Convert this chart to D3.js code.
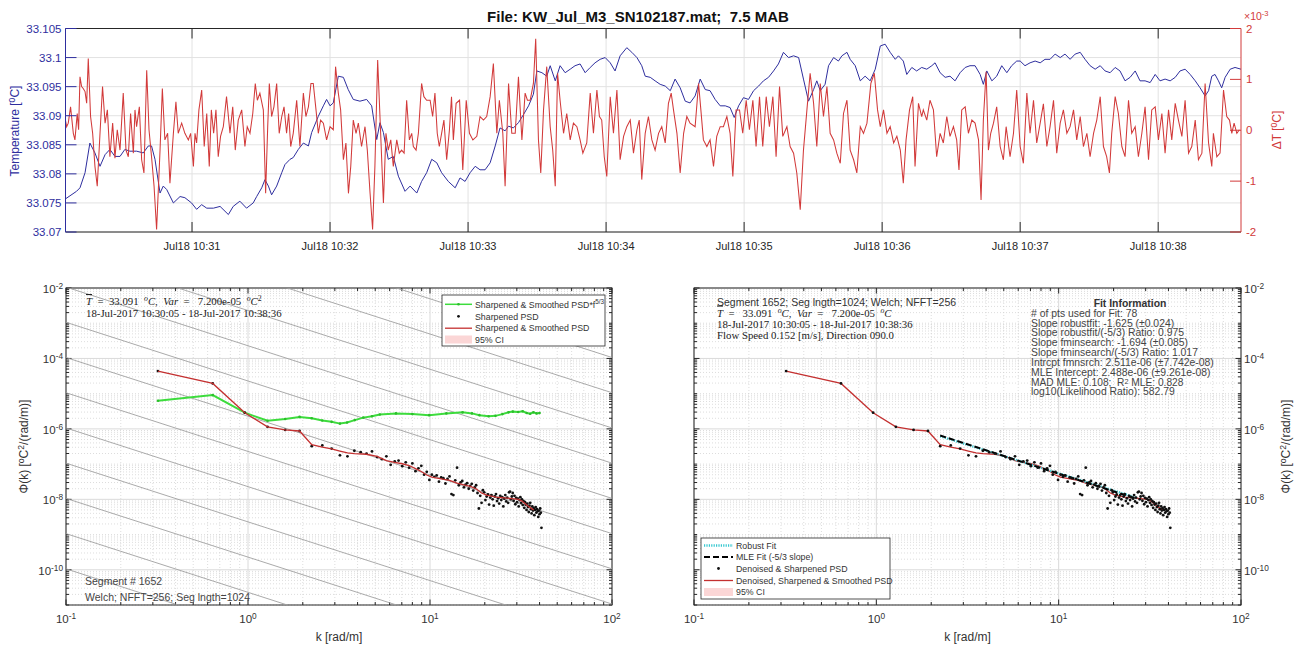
<!DOCTYPE html>
<html>
<head>
<meta charset="utf-8">
<title>KW_Jul_M3_SN102187</title>
<script src="https://d3js.org/d3.v7.min.js"></script>
<style>
  body { margin: 0; background: #fff; }
  svg { font-family: "Liberation Sans", Arial, sans-serif; }
</style>
</head>
<body>
<svg id="fig" width="1299" height="646"></svg>

<script>
// ---------- top panel data (seconds after 10:30:00, value) ----------
var tempTicks = [33.07, 33.075, 33.08, 33.085, 33.09, 33.095, 33.1, 33.105];
var tempTickLabels = ["33.07", "33.075", "33.08", "33.085", "33.09", "33.095", "33.1", "33.105"];
var dTTicks = [-2, -1, 0, 1, 2];

// temperature [degC]
var tempSeries = [[5,33.0757],[9.8,33.0770],[11.3,33.0776],[13.5,33.0802],[15.6,33.0853],[17.8,33.0836],[20,33.0813],[22.2,33.0833],[24.3,33.0842],[26.5,33.0830],[28.7,33.0830],[30.8,33.0842],[33,33.0839],[35.9,33.0839],[38.8,33.0836],[41,33.0848],[42.4,33.0848],[43.9,33.0825],[46.1,33.0767],[47.5,33.0779],[49,33.0773],[51.9,33.0750],[54.8,33.0761],[56.9,33.0759],[59.8,33.0750],[62,33.0739],[64.2,33.0747],[66.4,33.0741],[69.3,33.0741],[72.2,33.0744],[75.8,33.0730],[77.9,33.0744],[80.8,33.0753],[83.7,33.0741],[86.6,33.0750],[88.1,33.0761],[90.3,33.0776],[91.7,33.0790],[93.2,33.0779],[94.6,33.0764],[96.8,33.0779],[99,33.0802],[100.4,33.0816],[102.6,33.0825],[104,33.0828],[106.2,33.0842],[108.4,33.0853],[110.6,33.0848],[112,33.0871],[114.9,33.0899],[117.1,33.0917],[118.5,33.0928],[120,33.0917],[121.4,33.0922],[123.6,33.0968],[125.8,33.0966],[127.9,33.0945],[130.1,33.0928],[133,33.0925],[135.9,33.0928],[138.1,33.0917],[140.3,33.0859],[141.7,33.0888],[143.2,33.0871],[145.3,33.0825],[147.5,33.0830],[149.7,33.0796],[152.6,33.0770],[154.8,33.0779],[157.7,33.0767],[159.8,33.0787],[162,33.0802],[164.2,33.0825],[166.4,33.0819],[168.5,33.0802],[171.4,33.0787],
  [174.4,33.0776],[176.5,33.0793],[178.7,33.0787],[180.9,33.0802],[183.1,33.0813],[185.2,33.0807],[187.4,33.0807],[189.6,33.0819],[191.8,33.0848],[193.9,33.0879],[196.1,33.0874],[197.6,33.0882],[199.7,33.0879],[201.9,33.0888],[204.1,33.0902],[206.3,33.0917],[208.4,33.0937],[209.9,33.0977],[212.1,33.0974],[214.2,33.0968],[215.7,33.0986],[217.9,33.0960],[220,33.0986],[222.2,33.0974],[224.4,33.0980],[226.5,33.0986],[228.7,33.0989],[230.9,33.0974],[233.1,33.0983],[235.2,33.0991],[237.4,33.0997],[239.6,33.1000],[241.8,33.0991],[243.9,33.0977],[246.1,33.1003],[249,33.1017],[251.2,33.1009],[253.4,33.1000],[255.5,33.0986],[257,33.0968],[259.2,33.0966],[261.3,33.0960],[263.5,33.0954],[265.7,33.0951],[267.9,33.0943],[270,33.0963],[272.2,33.0948],[274.4,33.0925],[276.5,33.0922],[278.7,33.0934],[280.9,33.0963],[283.1,33.0945],[285.2,33.0943],[287.4,33.0928],[289.6,33.0917],[291.8,33.0917],[293.9,33.0914],[295.7,33.0897],[297.6,33.0917],[299.7,33.0931],[301.9,33.0928],[304.1,33.0943],[306.3,33.0951],[308.4,33.0960],[310.6,33.0966],[312.8,33.0977],[314.9,33.0989],[317.1,33.1009],[319.3,33.1000],[321.5,33.1003],[323.7,33.1000],[325.8,33.0963],[328,33.0925],[330.2,33.0945],[331.6,33.0960],[333.1,33.0943],[335.2,33.0954],[336.7,33.0986],[338.9,33.1000],[341,33.0994],[342.5,33.1003],[344.7,33.1009],[346.1,33.0997],[348.3,33.0986],[350.5,33.0960],[352.6,33.0968],[354.8,33.0960],[357,33.0980],[359.2,33.1020],[361.3,33.1023],[363.5,33.1009],[365.7,33.0997],[367.1,33.1003],[369.2,33.0994],[370.7,33.0971],[372.9,33.0983],[375,33.0977],[377.2,33.0983],[379.4,33.0980],[381.6,33.0986],[383,33.0991],[385.2,33.0974],[387.4,33.0966],[389.5,33.0968],[391.7,33.0960],[393.9,33.0974],[396.1,33.0983],[398.2,33.0986],[400.4,33.0986],[402.6,33.0971],[404,33.0954],[405.5,33.0977],[407.7,33.0960],[409.8,33.0968],[412,33.0986],[414.2,33.0974],[416.3,33.0986],[418.5,33.0994],[420,33.0994],[422.1,33.0986],[424.3,33.0991],[426.5,33.0994],[428.7,33.0991],[430.8,33.0997],[433,33.0997],[435.2,33.1006],[437.4,33.1000],[439.5,33.1006],[441.7,33.0997],[443.9,33.1006],[446.1,33.1009],[448.2,33.0997],[450.4,33.0986],[452.6,33.0980],[454.8,33.0986],[456.9,33.0977],[459.1,33.0974],[461.3,33.0983],[463.4,33.0977],[465.6,33.0960],[467.8,33.0966],[470,33.0977],[472.1,33.0960],[474.3,33.0960],[476.5,33.0957],[478.7,33.0971],[480.8,33.0960],[483,33.0963],[485.2,33.0960],[487.4,33.0966],[489.5,33.0977],[491.7,33.0980],[493.9,33.0971],[496.1,33.0960],[498.2,33.0948],[500.4,33.0934],[501.9,33.0943],[503.3,33.0968],[504.7,33.0971],[506.2,33.0960],[507.6,33.0948],[509.1,33.0966],[511.3,33.0980],[513.4,33.0983],[516,33.0980]];

// delta T [x 1e-3 degC]
var dTSeries = [[4.8,0.24],[5.5,0.07],[6.2,0.14],[7.2,0.46],[8.4,-0.06],[9.1,-0.19],[10.1,0.33],[10.7,0.01],[11.3,1.05],[12.0,0.86],[12.7,0.82],[13.5,0.76],[14.2,0.53],[14.9,1.41],[15.9,0.27],[16.8,-0.06],[17.8,-0.71],[18.8,-1.10],[20.0,-0.06],[21.1,0.86],[22.2,0.14],[23.2,0.40],[24.3,-0.52],[25.5,0.14],[26.5,-0.55],[27.5,0.01],[28.7,-0.39],[30.1,0.73],[31.3,-0.39],[32.3,-0.52],[33.3,0.33],[34.5,-0.45],[35.2,0.40],[35.9,0.07],[37.1,0.46],[38.1,-0.58],[39.1,-0.84],[40.3,1.18],[41.3,0.01],[42.4,-0.52],[43.5,-1.10],[44.6,-1.95],[46.1,-0.39],[47.1,0.82],[48.2,-0.19],[49.4,-0.06],[50.4,-1.04],[51.9,-0.06],[53.0,0.56],[54.0,-0.06],[55.5,0.14],[56.9,-0.06],[58.4,-0.19],[59.4,-0.06],[60.6,-0.71],[61.3,-0.06],[62.0,-0.25],[63.0,0.40],[64.2,0.79],[65.3,-0.32],[66.4,0.33],[67.5,-0.71],[68.4,0.40],[69.4,-0.06],[70.4,0.40],[71.4,-0.52],[72.4,-0.12],[73.6,0.07],[75.0,0.66],[76.5,-0.06],[77.7,0.46],[78.8,-0.39],[80.1,0.20],[81.6,0.40],[83.0,-0.32],[84.0,0.07],[85.2,-0.06],[86.4,0.33],[87.5,0.92],[88.4,0.59],[89.5,0.73],[91.0,0.40],[92.0,-1.24],[92.9,0.07],[93.6,0.92],[94.6,0.27],[95.6,0.46],[96.8,0.92],[97.9,-0.06],[99.0,0.27],[100.0,0.46],[101.1,-0.06],[102.0,0.33],[102.9,-0.32],[104.0,-0.06],[105.5,0.59],[106.9,-0.32],[108.4,0.73],[109.5,0.27],[110.6,0.46],[111.7,0.92],[112.7,0.92],[113.9,0.40],[114.9,-0.06],[115.9,0.20],[117.1,0.14],[118.5,-0.19],[120.0,0.07],[121.4,0.01],[122.4,1.25],[123.6,0.73],[124.6,0.40],[125.8,-0.58],[126.9,-0.25],[128.0,-1.24],[129.0,-0.71],[130.1,0.20],[131.3,-0.06],[132.3,0.14],[133.7,-0.32],[135.2,0.07],[136.2,-0.39],[137.4,-1.24],[138.5,-1.95],[139.5,-0.71],[140.7,1.38],[142.0,-0.06],[143.2,-1.43],[144.3,-0.06],[145.3,-0.39],[146.4,-0.19],[147.5,-0.71],[149.0,-0.19],[150.1,-0.45],[151.1,-0.39],[152.2,-0.45],[153.3,0.59],[154.5,-0.19],[155.5,-0.06],[156.2,-0.32],[157.4,-0.39],[158.4,-0.06],[159.8,0.92],[160.8,0.66],[162.0,0.59],[163.5,0.59],[164.6,0.27],[165.6,0.73],[166.6,-0.06],[167.5,-0.32],[168.5,-0.06],[169.5,0.20],[170.7,-0.58],[171.9,0.01],
  [172.8,0.66],[173.6,-0.19],[174.8,0.53],[176.3,0.59],[177.7,-0.78],[179.2,0.59],[180.6,-0.06],[182.1,-0.19],[183.8,-0.12],[185.2,0.27],[186.7,0.20],[188.1,0.27],[189.6,0.66],[191.0,1.31],[192.5,-0.06],[193.6,0.59],[195.1,-0.06],[196.1,-1.10],[197.6,0.92],[199.0,-0.06],[200.5,-0.06],[201.9,1.05],[203.4,-0.19],[204.8,0.73],[205.8,0.59],[207.0,0.59],[208.4,0.92],[209.4,1.80],[210.6,-0.19],[211.6,-0.84],[212.8,0.40],[214.2,1.25],[215.7,0.07],[216.8,-0.39],[217.9,-1.10],[218.9,1.12],[220.0,0.59],[221.5,-0.06],[222.9,0.33],[224.4,-0.19],[225.8,0.14],[227.3,0.07],[228.7,-0.19],[229.9,-0.45],[231.6,-0.25],[233.1,0.73],[234.5,-0.06],[236.0,0.79],[237.1,0.27],[238.1,0.20],[239.2,-0.52],[240.3,-0.91],[241.8,0.66],[243.2,-0.06],[244.7,0.79],[246.1,-0.58],[247.6,-0.12],[249.0,0.07],[250.5,0.20],[251.9,-0.45],[253.4,0.01],[254.4,0.20],[255.5,-0.97],[257.0,-0.06],[258.4,0.27],[259.9,-0.19],[261.3,-0.39],[262.8,-0.06],[264.2,0.07],[265.7,-0.25],[267.1,0.53],[268.3,0.73],[269.3,0.40],[270.8,-0.06],[272.2,-0.84],[273.7,-0.06],[275.1,0.27],[276.5,0.14],[278.7,0.07],[280.2,0.92],[281.2,0.40],[282.3,-0.19],[283.8,-0.32],[285.2,-0.19],[286.7,-0.71],[288.1,-0.12],[289.6,0.07],[291.0,0.07],[292.5,0.27],[293.9,-0.06],[295.1,-0.91],[296.5,0.40],[298.0,0.40],[299.4,-0.06],[300.9,0.59],[302.3,0.01],[303.8,0.59],[305.2,-0.32],[306.7,0.66],[308.1,-0.32],[309.6,0.66],[311.0,0.07],[312.5,0.66],[313.9,-0.52],[315.4,0.86],[316.8,-0.12],[318.6,0.07],[320.0,-0.32],[321.5,-0.45],[322.9,-0.84],[324.4,-1.56],[325.8,-0.39],[327.3,0.40],[328.7,1.12],[330.2,0.53],[331.6,-0.32],[333.1,0.92],[334.5,0.27],[336.0,0.86],[337.4,-0.06],[338.9,-0.19],[340.3,-0.45],[341.8,-0.65],[343.2,0.33],[344.7,0.59],[346.1,-0.39],[347.6,-0.58],[349.0,-0.84],[350.5,0.07],[351.9,-0.06],[353.4,0.14],[355.1,0.92],[356.6,1.12],[358.0,0.40],[359.2,0.07],[360.6,0.40],[362.1,-0.06],[363.5,0.07],[365.0,-0.25],[366.4,-0.12],[367.9,-0.39],
  [369.2,-1.04],[370.4,-0.19],[371.9,0.40],[373.3,0.66],[374.3,-0.71],[375.8,0.53],[377.2,0.27],[377.9,0.40],[379.4,0.20],[380.8,0.59],[382.3,0.40],[383.7,-0.52],[385.2,-0.06],[386.6,-0.25],[388.1,0.27],[389.5,-0.12],[391.0,0.07],[392.4,-0.19],[393.4,-0.78],[394.6,0.40],[396.1,0.46],[397.5,-0.06],[399.0,0.20],[400.4,0.14],[401.9,-0.19],[403.0,-1.37],[404.0,0.20],[405.2,1.15],[406.2,-0.39],[407.2,-0.06],[408.4,0.14],[409.8,0.46],[411.3,-0.32],[412.7,-0.58],[413.9,0.07],[415.6,-0.52],[417.1,-0.06],[418.5,0.79],[420.0,-0.32],[421.4,-0.65],[422.9,0.73],[424.3,-0.06],[425.8,0.59],[427.2,-0.25],[428.7,0.14],[430.1,0.52],[431.6,-0.32],[433.0,0.07],[434.5,0.59],[435.9,-0.45],[437.4,0.14],[438.8,0.40],[440.3,-0.06],[441.7,0.07],[443.2,0.40],[444.6,-0.19],[446.1,0.27],[447.5,-0.32],[449.0,-0.06],[450.4,-0.52],[451.9,-0.06],[453.3,0.20],[454.8,0.66],[456.2,-0.32],[457.6,-0.52],[458.8,-0.84],[459.8,-0.06],[461.3,0.66],[462.7,0.33],[464.2,-0.32],[465.6,-0.52],[467.1,0.59],[468.5,-0.06],[470.0,0.07],[471.4,-0.52],[472.9,-0.06],[474.3,0.46],[475.8,-0.58],[477.2,0.40],[478.7,0.46],[480.1,-0.19],[481.6,0.33],[483.0,-0.45],[484.5,0.40],[485.9,-0.19],[487.4,0.53],[488.8,0.20],[490.3,-0.12],[491.7,0.59],[493.2,-0.45],[494.6,-0.32],[496.1,0.20],[497.5,-0.58],[499.0,-0.45],[500.4,0.92],[501.9,-0.25],[503.3,-0.71],[504.0,-0.06],[505.5,-0.52],[506.9,-0.45],[508.4,0.79],[509.8,0.27],[511.0,0.20],[512.0,-0.06],[513.0,0.14],[514.2,-0.06],[515.3,0.01]];

// ---------- spectra data ----------
var kStep = 0.32;   // wavenumber spacing [rad/m], 128 bins
// sharpened PSD, log10 [degC^2/(rad/m)] per bin
var psdLog10 = [-4.36,-4.71,-5.54,-5.94,-6.03,-6.06,-6.49,-6.47,-6.56,-6.75,
  -6.78,-6.62,-6.66,-6.70,-6.64,-6.80,-6.86,-6.78,-7.02,-6.92,
  -6.90,-7.06,-6.95,-7.10,-6.98,-7.20,-7.12,-7.05,-7.30,-7.22,
  -7.45,-7.30,-7.36,-7.32,-7.50,-7.38,-7.40,-7.55,-7.42,-7.35,
  -7.85,-7.88,-7.46,-7.10,-7.60,-7.52,-7.48,-7.66,-7.58,-7.54,
  -7.70,-7.62,-7.56,-7.75,-7.66,-7.60,-7.82,-8.26,-7.90,-8.10,
  -7.74,-7.80,-8.02,-7.92,-7.86,-8.15,-7.95,-7.88,-8.00,-8.18,
  -7.92,-7.85,-8.05,-7.97,-8.12,-7.90,-8.02,-7.94,-8.20,-7.98,
  -7.88,-8.06,-7.95,-8.10,-7.80,-7.78,-8.00,-7.92,-7.82,-8.04,
  -7.90,-8.14,-7.96,-8.08,-7.98,-8.20,-8.02,-7.94,-8.10,-8.00,
  -8.16,-8.05,-8.24,-8.08,-8.15,-8.30,-8.12,-8.22,-8.36,-8.18,
  -8.10,-8.28,-8.40,-8.20,-8.32,-8.25,-8.45,-8.30,-8.22,-8.38,
  -8.28,-8.34,-8.50,-8.32,-8.42,-8.26,-8.38,-8.81];

// smoothed PSD (red line)
var smoothK = [0.32,0.64,0.96,1.28,1.6,1.92,2.24,2.56,2.88,3.2,3.52,3.84,4.48,5.12,5.76,6.4,7.04,7.68,8.32,8.96,9.6,10.24,11.52,12.8,14.08,15.36,16.64,17.92,19.2,20.48,23.04,25.6,28.16,30.72,32.0,33.28,34.56,35.84,37.12];
var smoothLog10 = [-4.36,-4.71,-5.54,-5.94,-6.03,-6.06,-6.45,-6.52,-6.57,-6.63,-6.68,-6.70,-6.72,-6.78,-6.90,-6.95,-6.99,-7.04,-7.13,-7.21,-7.31,-7.37,-7.42,-7.46,-7.54,-7.59,-7.63,-7.70,-7.82,-7.88,-7.94,-7.96,-7.98,-8.00,-8.05,-8.12,-8.19,-8.25,-8.30];

// smoothed PSD * k^(5/3) (green line)
var greenK = [0.32,0.64,0.96,1.28,1.6,1.92,2.24,2.56,2.88,3.2,3.5,3.86,4.3,4.8,5.3,6.5,8.0,9.9,12.3,15.1,17.0,18.7,21.0,22.9,25.0,27.0,28.5,30.5,32.3,34.0,35.5,37.0,38.5,40.0];
var greenLog10 = [-5.20,-5.04,-5.54,-5.77,-5.72,-5.66,-5.70,-5.76,-5.80,-5.85,-5.82,-5.75,-5.68,-5.64,-5.59,-5.56,-5.58,-5.61,-5.56,-5.53,-5.56,-5.61,-5.64,-5.63,-5.58,-5.53,-5.51,-5.52,-5.50,-5.55,-5.57,-5.53,-5.56,-5.55];

// -5/3 reference lines: log10 of value at k = 1
var refLog10AtK1 = [-0.64,-1.64,-2.64,-3.64,-4.64,-5.64,-6.64,-7.64,-8.64,-9.64,-10.64,-11.64];
var refSlope = -5 / 3;

// fits (right panel)
var fitRange = [2.24, 26.88];
var robustSlope = -1.625, robustIntercept = 2.3e-6;
var mleSlope = -5 / 3, mleIntercept = 2.488e-6;

var fitInfoLines = ["# of pts used for Fit: 78",
  "Slope robustfit: -1.625 (\u00b10.024)",
  "Slope robustfit/(-5/3) Ratio: 0.975",
  "Slope fminsearch: -1.694 (\u00b10.085)",
  "Slope fminsearch/(-5/3) Ratio: 1.017",
  "Intrcpt fmnsrch: 2.511e-06 (\u00b17.742e-08)",
  "MLE Intercept: 2.488e-06 (\u00b19.261e-08)",
  null,
  "log10(Likelihood Ratio): 582.79"];

(function() {
  var svg = d3.select("#fig");
  var axisCol = "#262626";
  var blue = "#2e2e9e", red = "#d23a3a";

  // text with superscripts / italic / overline parts
  function rich(g, x, y, parts, supShift) {
    var shift = supShift || -4;
    var t = g.append("text").attr("x", x).attr("y", y).style("white-space", "pre");
    var cur = 0;
    parts.forEach(function(p) {
      var s = (typeof p === "string") ? {t: p} : p;
      var target = s.sup ? shift : 0;
      var ts = t.append("tspan").text(s.t);
      if (target !== cur) { ts.attr("dy", target - cur); cur = target; }
      if (s.sup) ts.attr("font-size", "72%");
      if (s.it) ts.attr("font-style", "italic");
      if (s.bar) ts.attr("text-decoration", "overline");
    });
    return t;
  }

  // ================= top panel =================
  var T = {x0: 65.5, x1: 1241, y0: 28.5, y1: 232};
  var t0 = new Date(2017, 6, 18, 10, 30, 0);
  function tsec(s) { return new Date(t0.getTime() + s * 1000); }
  var xT = d3.scaleTime().domain([tsec(5), tsec(516)]).range([T.x0, T.x1]);
  var yT = d3.scaleLinear().domain([33.07, 33.105]).range([T.y1, T.y0]);
  var yD = d3.scaleLinear().domain([-2, 2]).range([T.y1, T.y0]);
  var minutes = xT.ticks(d3.timeMinute.every(1));
  var fmt = d3.timeFormat("%b%d %H:%M");

  var gt = svg.append("g");
  svg.append("clipPath").attr("id", "clipTop").append("rect")
    .attr("x", T.x0).attr("y", T.y0).attr("width", T.x1 - T.x0).attr("height", T.y1 - T.y0);

  gt.selectAll("line.hg").data(tempTicks).enter().append("line")
    .attr("x1", T.x0).attr("x2", T.x1).attr("y1", function(d) { return yT(d); }).attr("y2", function(d) { return yT(d); })
    .attr("stroke", "#e2e2e2").attr("stroke-width", 1);
  gt.selectAll("line.vg").data(minutes).enter().append("line")
    .attr("x1", function(d) { return xT(d); }).attr("x2", function(d) { return xT(d); })
    .attr("y1", T.y0).attr("y2", T.y1).attr("stroke", "#e2e2e2").attr("stroke-width", 1);

  var lineTemp = d3.line().x(function(d) { return xT(tsec(d[0])); }).y(function(d) { return yT(d[1]); });
  var lineDT = d3.line().x(function(d) { return xT(tsec(d[0])); }).y(function(d) { return yD(d[1]); });
  var gtd = gt.append("g").attr("clip-path", "url(#clipTop)");
  gtd.append("path").attr("d", lineTemp(tempSeries)).attr("fill", "none").attr("stroke", blue).attr("stroke-width", 1);
  gtd.append("path").attr("d", lineDT(dTSeries)).attr("fill", "none").attr("stroke", red).attr("stroke-width", 1.05);

  // box and ticks
  gt.append("line").attr("x1", T.x0).attr("x2", T.x1).attr("y1", T.y0).attr("y2", T.y0).attr("stroke", axisCol);
  gt.append("line").attr("x1", T.x0).attr("x2", T.x1).attr("y1", T.y1).attr("y2", T.y1).attr("stroke", axisCol);
  gt.append("line").attr("x1", T.x0).attr("x2", T.x0).attr("y1", T.y0).attr("y2", T.y1).attr("stroke", blue);
  gt.append("line").attr("x1", T.x1).attr("x2", T.x1).attr("y1", T.y0).attr("y2", T.y1).attr("stroke", red);
  minutes.forEach(function(m) {
    var x = xT(m);
    gt.append("line").attr("x1", x).attr("x2", x).attr("y1", T.y1).attr("y2", T.y1 - 10).attr("stroke", axisCol);
    gt.append("line").attr("x1", x).attr("x2", x).attr("y1", T.y0).attr("y2", T.y0 + 10).attr("stroke", axisCol);
    gt.append("text").attr("x", x).attr("y", 250).attr("text-anchor", "middle")
      .attr("font-size", "11px").attr("fill", "#262626").text(fmt(m));
  });
  tempTicks.forEach(function(v, i) {
    var y = yT(v);
    gt.append("line").attr("x1", T.x0).attr("x2", T.x0 + 11).attr("y1", y).attr("y2", y).attr("stroke", blue);
    gt.append("text").attr("x", T.x0 - 4).attr("y", y + 4).attr("text-anchor", "end")
      .attr("font-size", "11.5px").attr("fill", blue).text(tempTickLabels[i]);
  });
  dTTicks.forEach(function(v) {
    var y = yD(v);
    gt.append("line").attr("x1", T.x1).attr("x2", T.x1 - 11).attr("y1", y).attr("y2", y).attr("stroke", red);
    gt.append("text").attr("x", T.x1 + 5).attr("y", y + 4).attr("font-size", "11.5px").attr("fill", red).text(v);
  });
  rich(gt, 1244, 20, ["\u00d710", {t: "-3", sup: true}]).attr("font-size", "10.5px").attr("fill", red);

  rich(gt, 0, 0, ["Temperature [", {t: "0", sup: true}, "C]"])
    .attr("transform", "translate(19,131) rotate(-90)").attr("text-anchor", "middle")
    .attr("font-size", "12px").attr("fill", blue);
  rich(gt, 0, 0, ["\u0394T [", {t: "0", sup: true}, "C]"])
    .attr("transform", "translate(1281,130) rotate(-90)").attr("text-anchor", "middle")
    .attr("font-size", "12px").attr("fill", red);

  svg.append("text").attr("x", 638).attr("y", 22).attr("text-anchor", "middle")
    .attr("font-size", "15px").attr("font-weight", "bold").attr("fill", "#111")
    .style("white-space", "pre").text("File: KW_Jul_M3_SN102187.mat;  7.5 MAB");

  // ================= spectrum panels =================
  function logPanel(B, id, labelsRight) {
    var x = d3.scaleLog().domain([0.1, 100]).range([B.x0, B.x1]);
    var y = d3.scaleLog().domain([1e-11, 1e-2]).range([B.y1, B.y0]);
    var g = svg.append("g");
    svg.append("clipPath").attr("id", id).append("rect")
      .attr("x", B.x0).attr("y", B.y0).attr("width", B.x1 - B.x0).attr("height", B.y1 - B.y0);

    var xMinor = [], xMajor = [], yMinor = [], yMajor = [];
    var e, m;
    for (e = -1; e <= 2; e++) xMajor.push(Math.pow(10, e));
    for (e = -1; e < 2; e++) for (m = 2; m <= 9; m++) xMinor.push(m * Math.pow(10, e));
    for (e = -11; e <= -2; e++) {
      if (e % 2 === 0) yMajor.push(Math.pow(10, e)); else yMinor.push(Math.pow(10, e));
      if (e < -2) for (m = 2; m <= 9; m++) yMinor.push(m * Math.pow(10, e));
    }
    // grids
    xMinor.forEach(function(v) {
      g.append("line").attr("x1", x(v)).attr("x2", x(v)).attr("y1", B.y0).attr("y2", B.y1)
        .attr("stroke", "#cfcfcf").attr("stroke-width", 0.7).attr("stroke-dasharray", "1,2");
    });
    yMinor.forEach(function(v) {
      g.append("line").attr("x1", B.x0).attr("x2", B.x1).attr("y1", y(v)).attr("y2", y(v))
        .attr("stroke", "#cfcfcf").attr("stroke-width", 0.7).attr("stroke-dasharray", "1,2");
    });
    xMajor.forEach(function(v) {
      g.append("line").attr("x1", x(v)).attr("x2", x(v)).attr("y1", B.y0).attr("y2", B.y1)
        .attr("stroke", "#dadada").attr("stroke-width", 1);
    });
    yMajor.forEach(function(v) {
      g.append("line").attr("x1", B.x0).attr("x2", B.x1).attr("y1", y(v)).attr("y2", y(v))
        .attr("stroke", "#dadada").attr("stroke-width", 1);
    });
    // box
    g.append("rect").attr("x", B.x0).attr("y", B.y0).attr("width", B.x1 - B.x0).attr("height", B.y1 - B.y0)
      .attr("fill", "none").attr("stroke", axisCol).attr("stroke-width", 1);
    // ticks on all sides
    function tx(v, len) {
      g.append("line").attr("x1", x(v)).attr("x2", x(v)).attr("y1", B.y1).attr("y2", B.y1 - len).attr("stroke", axisCol);
      g.append("line").attr("x1", x(v)).attr("x2", x(v)).attr("y1", B.y0).attr("y2", B.y0 + len).attr("stroke", axisCol);
    }
    function ty(v, len) {
      g.append("line").attr("x1", B.x0).attr("x2", B.x0 + len).attr("y1", y(v)).attr("y2", y(v)).attr("stroke", axisCol);
      g.append("line").attr("x1", B.x1).attr("x2", B.x1 - len).attr("y1", y(v)).attr("y2", y(v)).attr("stroke", axisCol);
    }
    xMinor.forEach(function(v) { tx(v, 3); });
    xMajor.forEach(function(v) { tx(v, 5.5); });
    yMinor.forEach(function(v) { ty(v, 3); });
    yMajor.forEach(function(v) { ty(v, 5.5); });

    // tick labels
    [-1, 0, 1, 2].forEach(function(p) {
      rich(g, x(Math.pow(10, p)), B.y1 + 18, ["10", {t: String(p), sup: true}])
        .attr("text-anchor", "middle").attr("font-size", "11.5px").attr("fill", "#333");
    });
    [-10, -8, -6, -4, -2].forEach(function(p) {
      var t = rich(g, labelsRight ? B.x1 + 3 : B.x0 - 3, y(Math.pow(10, p)) + 5, ["10", {t: String(p), sup: true}])
        .attr("font-size", "11.5px").attr("fill", "#333");
      if (!labelsRight) t.attr("text-anchor", "end");
    });
    g.append("text").attr("x", (B.x0 + B.x1) / 2).attr("y", 641).attr("text-anchor", "middle")
      .attr("font-size", "12px").attr("fill", "#333").text("k [rad/m]");
    var ylx = labelsRight ? 1290 : 28;
    rich(g, 0, 0, ["\u03a6(k) [", {t: "o", sup: true}, "C", {t: "2", sup: true}, "/(rad/m)]"])
      .attr("transform", "translate(" + ylx + "," + ((B.y0 + B.y1) / 2) + ") rotate(-90)")
      .attr("text-anchor", "middle").attr("font-size", "12px").attr("fill", "#333");

    var data = g.append("g").attr("clip-path", "url(#" + id + ")");
    return {x: x, y: y, g: g, data: data};
  }

  var kAll = psdLog10.map(function(v, i) { return (i + 1) * kStep; });
  var redCol = "#c43030", greenCol = "#3ddc3d";
  var legendFont = "8.8px";

  // ---------- left panel ----------
  var L = logPanel({x0: 66, x1: 612, y0: 288, y1: 605}, "clipL", false);
  refLog10AtK1.forEach(function(c) {
    L.data.append("line")
      .attr("x1", L.x(0.1)).attr("y1", L.y(Math.pow(10, c + refSlope * -1)))
      .attr("x2", L.x(100)).attr("y2", L.y(Math.pow(10, c + refSlope * 2)))
      .attr("stroke", "#a0a0a0").attr("stroke-width", 0.9);
  });
  var lineG = d3.line().x(function(d, i) { return L.x(greenK[i]); }).y(function(d) { return L.y(Math.pow(10, d)); });
  L.data.append("path").attr("d", lineG(greenLog10)).attr("fill", "none").attr("stroke", greenCol).attr("stroke-width", 2);
  L.data.selectAll("circle.gm").data(greenLog10).enter().append("circle")
    .attr("cx", function(d, i) { return L.x(greenK[i]); }).attr("cy", function(d) { return L.y(Math.pow(10, d)); })
    .attr("r", 1.3).attr("fill", "#2bbf2b");
  L.data.selectAll("circle.pt").data(psdLog10).enter().append("circle")
    .attr("cx", function(d, i) { return L.x(kAll[i]); }).attr("cy", function(d) { return L.y(Math.pow(10, d)); })
    .attr("r", 1.4).attr("fill", "#111");
  var lineS = function(P) {
    return d3.line().x(function(d, i) { return P.x(smoothK[i]); }).y(function(d) { return P.y(Math.pow(10, d)); });
  };
  L.data.append("path").attr("d", lineS(L)(smoothLog10)).attr("fill", "none").attr("stroke", redCol).attr("stroke-width", 1.3);

  var serif = "\"Liberation Serif\", \"Times New Roman\", serif";
  var tl = rich(L.g, 86, 305, [{t: "T", it: true, bar: true}, "  =  33.091  ", {t: "o", sup: true, it: true}, {t: "C", it: true}, ",  ", {t: "Var", it: true}, "  =   7.200e-05  ", {t: "o", sup: true, it: true}, {t: "C", it: true}, {t: "2", sup: true}]);
  tl.attr("font-family", serif).attr("font-size", "10.8px").attr("fill", "#222");
  L.g.append("text").attr("x", 86).attr("y", 316.5).attr("font-family", serif).attr("font-size", "10.8px")
    .attr("fill", "#222").text("18-Jul-2017 10:30:05 - 18-Jul-2017 10:38:36");
  L.g.append("text").attr("x", 85).attr("y", 585).attr("font-size", "10.5px").attr("fill", "#444").text("Segment # 1652");
  L.g.append("text").attr("x", 85).attr("y", 601).attr("font-size", "10.5px").attr("fill", "#444").text("Welch; NFFT=256; Seg lngth=1024");

  // left legend
  var lg = L.g.append("g");
  lg.append("rect").attr("x", 442).attr("y", 295).attr("width", 163).attr("height", 51)
    .attr("fill", "#fff").attr("stroke", axisCol).attr("stroke-width", 0.8);
  var lgY = [304.3, 316.3, 328.2, 339.5];
  lg.append("line").attr("x1", 445).attr("x2", 472).attr("y1", lgY[0]).attr("y2", lgY[0]).attr("stroke", greenCol).attr("stroke-width", 1.5);
  lg.append("circle").attr("cx", 458.5).attr("cy", lgY[0]).attr("r", 1.3).attr("fill", "#2bbf2b");
  lg.append("circle").attr("cx", 458.5).attr("cy", lgY[1]).attr("r", 1.4).attr("fill", "#111");
  lg.append("line").attr("x1", 445).attr("x2", 472).attr("y1", lgY[2]).attr("y2", lgY[2]).attr("stroke", redCol).attr("stroke-width", 1.3);
  lg.append("rect").attr("x", 445).attr("y", lgY[3] - 4).attr("width", 27).attr("height", 8).attr("fill", "#fbd6d6");
  [["Sharpened & Smoothed PSD*f", {t: "5/3", sup: true}], ["Sharpened PSD"], ["Sharpened & Smoothed PSD"], ["95% CI"]]
    .forEach(function(p, i) {
      rich(lg, 475, lgY[i] + 3.2, p).attr("font-size", legendFont).attr("fill", "#333");
    });

  // ---------- right panel ----------
  var R = logPanel({x0: 694, x1: 1241, y0: 288, y1: 605}, "clipR", true);
  R.data.append("path").attr("d", lineS(R)(smoothLog10)).attr("fill", "none").attr("stroke", redCol).attr("stroke-width", 1.3);
  function fitLine(A, s) {
    return fitRange.map(function(k) { return [R.x(k), R.y(A * Math.pow(k, s))]; });
  }
  R.data.append("path").attr("d", d3.line()(fitLine(robustIntercept, robustSlope))).attr("fill", "none")
    .attr("stroke", "#36c8d0").attr("stroke-width", 2.5).attr("stroke-dasharray", "1.2,1.2");
  R.data.append("path").attr("d", d3.line()(fitLine(mleIntercept, mleSlope))).attr("fill", "none")
    .attr("stroke", "#000").attr("stroke-width", 2).attr("stroke-dasharray", "6,3");
  R.data.selectAll("circle.pt").data(psdLog10).enter().append("circle")
    .attr("cx", function(d, i) { return R.x(kAll[i]); }).attr("cy", function(d) { return R.y(Math.pow(10, d)); })
    .attr("r", 1.4).attr("fill", "#111");

  R.g.append("text").attr("x", 717).attr("y", 305.5).attr("font-size", "10.5px").attr("fill", "#333")
    .text("Segment 1652; Seg lngth=1024; Welch; NFFT=256");
  rich(R.g, 717, 316.5, [{t: "T", it: true, bar: true}, "  =   33.091  ", {t: "o", sup: true, it: true}, {t: "C", it: true}, ",  ", {t: "Var", it: true}, "  =   7.200e-05  ", {t: "o", sup: true, it: true}, {t: "C", it: true}])
    .attr("font-family", serif).attr("font-size", "10.8px").attr("fill", "#222");
  R.g.append("text").attr("x", 717).attr("y", 327.8).attr("font-family", serif).attr("font-size", "10.8px")
    .attr("fill", "#222").text("18-Jul-2017 10:30:05 - 18-Jul-2017 10:38:36");
  R.g.append("text").attr("x", 717).attr("y", 338.5).attr("font-family", serif).attr("font-size", "10.8px")
    .attr("fill", "#222").text("Flow Speed 0.152 [m/s], Direction 090.0");

  R.g.append("text").attr("x", 1130).attr("y", 306.5).attr("text-anchor", "middle").attr("font-size", "10.4px")
    .attr("font-weight", "bold").attr("fill", "#333").text("Fit Information");
  fitInfoLines.forEach(function(s, i) {
    var yy = 316.8 + i * 9.8;
    if (s === null) {
      rich(R.g, 1031, yy + 0.6, ["MAD MLE: 0.108;  R", {t: "2", sup: true}, " MLE: 0.828"], -2.5)
        .attr("font-size", "10.2px").attr("fill", "#444");
    } else {
      R.g.append("text").attr("x", 1031).attr("y", yy).attr("font-size", "10.4px").attr("fill", "#444").text(s);
    }
  });

  // right legend
  var rg = R.g.append("g");
  rg.append("rect").attr("x", 701).attr("y", 538).attr("width", 189).attr("height", 61)
    .attr("fill", "#fff").attr("stroke", axisCol).attr("stroke-width", 0.8);
  var rgY = [545.5, 557, 568.5, 580.5, 592];
  rg.append("line").attr("x1", 704).attr("x2", 733).attr("y1", rgY[0]).attr("y2", rgY[0])
    .attr("stroke", "#36c8d0").attr("stroke-width", 2.5).attr("stroke-dasharray", "1.2,1.2");
  rg.append("line").attr("x1", 704).attr("x2", 733).attr("y1", rgY[1]).attr("y2", rgY[1])
    .attr("stroke", "#000").attr("stroke-width", 2).attr("stroke-dasharray", "6,3");
  rg.append("circle").attr("cx", 718.5).attr("cy", rgY[2]).attr("r", 1.4).attr("fill", "#111");
  rg.append("line").attr("x1", 704).attr("x2", 733).attr("y1", rgY[3]).attr("y2", rgY[3]).attr("stroke", redCol).attr("stroke-width", 1.3);
  rg.append("rect").attr("x", 704).attr("y", rgY[4] - 4).attr("width", 29).attr("height", 8).attr("fill", "#fbd6d6");
  ["Robust Fit", "MLE Fit (-5/3 slope)", "Denoised & Sharpened PSD", "Denoised, Sharpened & Smoothed PSD", "95% CI"]
    .forEach(function(s, i) {
      rg.append("text").attr("x", 736).attr("y", rgY[i] + 3.2).attr("font-size", legendFont).attr("fill", "#333").text(s);
    });
})();
</script>
</body>
</html>
